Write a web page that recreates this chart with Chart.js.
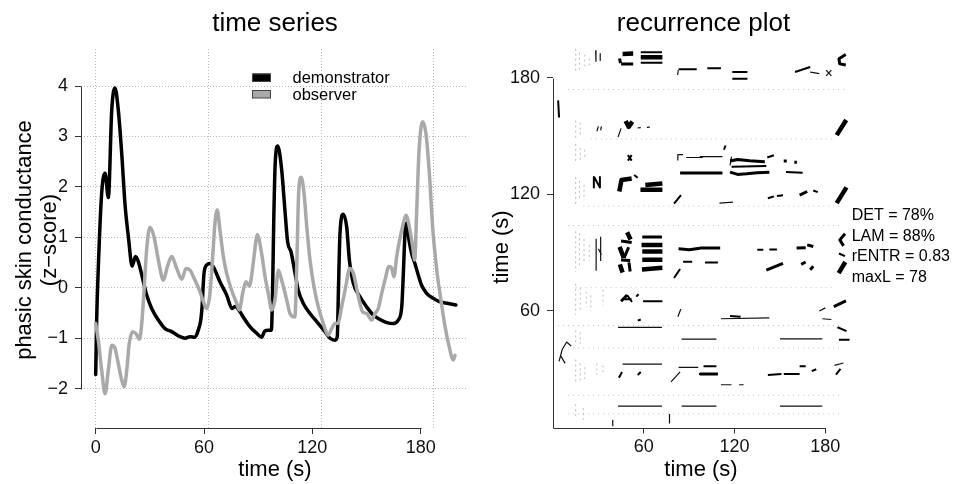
<!DOCTYPE html>
<html><head><meta charset="utf-8">
<script src="https://cdn.jsdelivr.net/npm/chart.js@4.4.1/dist/chart.umd.min.js"></script>
<style>
html,body{margin:0;padding:0;background:#fff;}
#wrap{position:relative;width:955px;height:484px;overflow:hidden;background:#fff;}
canvas{position:absolute;top:0;}
#c1{left:0;width:480px;height:484px;}
#c2{left:480px;width:475px;height:484px;}
</style></head><body>
<div id="wrap"><canvas id="c1" width="480" height="484"></canvas><canvas id="c2" width="475" height="484"></canvas></div>
<script>
// ---------- time series data (seconds, z-score) ----------
const demoTime = [0,0.5,1.5,3.3,5.2,7.0,8.9,10.7,12.5,14.4,16.2,18.1,20.2,22.0,23.6,26.4,28.2,31,34.7,38.4,42.1,46.7,49.5,52.3,55,56.8,58.2,58.9,60,61.5,63.3,65.1,68.8,72.5,75.5,77.3,80,81.7,85.4,89.1,91.9,93.6,95.6,97.3,97.9,98.6,99.4,100.8,103,104.8,106.3,108.2,110.4,112.2,115,118.7,122.4,127,129.8,132.5,133.8,134.4,135.3,137.1,139,140.5,142.7,146.4,150.1,153.7,157.5,161.2,164.8,167.6,169.5,170.4,171.3,172.2,173.5,175,176.8,178.7,180.5,183.3,187,190.7,195.3,199.5];
const demoValue = [-1.72,-0.7,0.45,1.87,2.27,1.79,3.53,3.96,3.53,2.67,1.67,1.01,0.43,0.62,0.52,0.12,-0.14,-0.41,-0.64,-0.81,-0.87,-0.97,-1.0,-0.97,-0.98,-0.84,-0.64,-0.38,0.29,0.45,0.48,0.42,0.12,-0.14,-0.41,-0.37,-0.48,-0.58,-0.77,-0.9,-0.98,-0.86,-0.84,-0.84,-0.2,1.3,2.45,2.81,2.34,1.54,0.91,0.71,0.29,-0.05,-0.31,-0.51,-0.67,-0.87,-1.0,-1.04,-0.97,-0.11,1.08,1.46,1.21,0.55,0.09,-0.18,-0.38,-0.54,-0.63,-0.69,-0.71,-0.64,-0.38,0.29,1.08,1.28,0.95,0.68,0.48,0.25,0.05,-0.11,-0.21,-0.28,-0.31,-0.34];
const obsTime = [0,1.45,3.3,5.2,7,8.9,10.7,12.5,14.4,15.8,17.2,18.6,20.5,22.3,24.2,25.5,26.9,28.2,30.1,32.3,34.7,37.5,39.7,42.1,44.9,47.7,50,52.2,55,57.8,60,61.5,63.3,64.8,66.1,67.3,68.8,70.7,72.5,75.3,78.1,79.5,81.4,83.2,85.1,86.2,87.7,89.5,91.9,93.8,95.6,97.5,99.3,101.2,103,105.8,107.6,110.3,111.4,112.4,113.8,115.4,116.9,118.7,120.9,123.3,126.1,128.8,130.7,132.5,134.3,136.2,138.1,140.8,142.7,145.5,147.9,150.1,152.8,154.7,156.5,158.4,160.2,162.4,163.8,165.2,166.7,168.5,170.4,171.8,173.7,175.6,176.7,177.8,179.1,181.1,182.9,184.8,186.6,188.9,191.2,193.5,195.8,198,199];
const obsValue = [-0.71,-1.04,-1.63,-2.1,-1.63,-1.14,-1.2,-1.5,-1.83,-1.96,-1.63,-1.1,-0.87,-0.91,-1.02,-0.71,0.02,0.75,1.2,1.01,0.55,0.15,0.42,0.62,0.38,0.17,0.38,0.35,0.15,-0.08,-0.31,-0.41,-0.11,0.62,1.3,1.54,1.15,0.62,0.29,-0.05,-0.31,-0.44,-0.11,0.12,0.03,0.2,0.62,1.05,0.68,0.22,-0.11,-0.44,-0.24,0.35,0.15,-0.24,-0.51,-0.58,0.5,1.87,2.19,1.87,1.21,0.55,0.02,-0.38,-0.71,-0.94,-0.81,-0.71,-0.7,-0.38,-0.05,0.38,0.29,-0.18,-0.48,-0.51,-0.64,-0.51,-0.41,-0.11,0.15,0.42,0.4,0.22,0.62,0.98,1.28,1.44,1.21,0.81,0.55,1.54,2.73,3.29,3.06,2.27,1.21,0.35,-0.24,-0.77,-1.17,-1.43,-1.34];
const seriesNames = ["demonstrator", "observer"];
const tsXTicks = [0, 60, 120, 180];
const tsGridX = [0, 62.4, 124.8, 187.2];
const tsYTicks = [-2, -1, 0, 1, 2, 3, 4];

// ---------- recurrence plot marks (time of demonstrator, time of observer), polylines ----------
const rpTicks = [60, 120, 180];
const rqaLines = ["DET = 78%", "LAM = 88%", "rENTR = 0.83", "maxL = 78"];
const rpDense = [
 [46,192.3, 53,192.5],
 [58,190.6, 72.3,190.6],
 [48,157.8, 50,154.8, 52.5,157.5],
 [187.5,150.5, 193.8,158.3],
 [43.8,121.5, 45.3,127.4, 52,128.2],
 [57.8,122.4, 72.3,122.4],
 [61,124.8, 72.3,125.6],
 [187.5,115.5, 194,123.6],
 [49,100.5, 51.3,96.8],
 [44,93, 46.8,87.3],
 [44.2,84, 46,79.8],
 [58.5,94.0, 72.3,94.0],
 [59,90.6, 72.3,90.6],
 [59,86.3, 72.3,86.3],
 [58.8,81.4, 72.3,82.2],
 [188.8,79.5, 193.2,85.2]
];
const rpStrong = [
 [44,190, 44.6,187.6],
 [45,187.2, 53,187.2],
 [193.5,192, 189,189.8, 189.5,187.2, 193.5,186.6],
 [84,131, 99,131],
 [97,131, 112,131],
 [117,137.2, 122,138, 130,137.3, 140,136.8],
 [117,131.5, 122,130.3, 128,130.6, 135,131.2, 143,131.4],
 [152.5,137.2, 154.5,137.2], [159.5,136.6, 161.2,136.6],
 [163,119.6, 168,121.5],
 [45,96, 52,95.2],
 [47,87.3, 50,92.8],
 [45,86.2, 51,86],
 [50.2,85, 51,80.3],
 [83,92, 90,91.5, 97,92.3],
 [97,92.4, 110.5,92.4],
 [161,92.4, 167,92.6], [168,94, 172,93.2],
 [141,81, 152,84.5],
 [164,84, 167,85.2], [170,81.2, 172,83],
 [193,99.7, 189.6,96.6, 192,93.5],
 [185.6,62.2, 193.6,65.2],
 [45,65, 49,68.2],
 [97,27.6, 109,27.6],
 [59,98.1, 72,98.1]
];
const rpMedium = [
 [58,193.2, 72,193.2], [58,187.8, 72.3,187.8],
 [83,184.5, 95,184.5],
 [102,185, 111,185],
 [118.5,183, 128.5,183],
 [118.5,179.6, 128.5,179.6],
 [160,183, 170,185.6],
 [3.4,168.4, 4,159.6],
 [49.5,140.2, 52,137.4], [49.5,137.4, 52,140.2],
 [118,134.2, 141,134.6],
 [154,131.6, 165,131.1],
 [142,118, 146,119], [148,119.2, 152,119.6],
 [172,122, 175,121.2],
 [80,115.2, 84.6,119.6],
 [86,85.3, 92,85.3],
 [100.5,85, 109,85],
 [135,91.5, 139,91.5], [143,91.6, 148,91.6],
 [80,77, 84,81.6],
 [189,89.6, 193,88.2],
 [49,68.2, 52.2,64.6], [47,66, 52,66],
 [59.5,65, 72.3,65],
 [55,67.4, 56.6,68.6],
 [56,55, 58,55.6],
 [117,57.4, 124,57],
 [188,51.6, 194,49.6],
 [189,45.2, 196,45.2],
 [27,129, 27,123.5], [27.2,129, 31,123.5], [31,129, 31,123.5],
 [56,27, 58,28.6],
 [43.6,25.6, 45.6,28.6],
 [96.5,27.5, 101,27.5],
 [99.5,31.5, 108,31.5],
 [142,27, 151,27.6],
 [152.5,27.5, 163,27.5],
 [163,31.5, 167,31.5], [171,29, 174,30],
 [187,27.2, 190,30.2],
 [141.6,139, 146,140.2],
 [113,143, 114,145.2],
 [53.6,130, 56,128.6]
];
const rpLight = [
 [82.8,184, 82.4,181.5],
 [28.2,194, 28.4,188.5], [31.2,192.5, 31.2,189],
 [82.5,137.4, 82.5,140.5, 86,140.5],
 [88,139, 99,139],
 [97,139.5, 112,139.5],
 [117,135, 118,139.5],
 [43,149.5, 45,154],
 [56,154.3, 58,154.4], [62,154.5, 64,154.6],
 [29,152.5, 30,155], [31.5,153, 32,155],
 [170,183, 176,182.2],
 [180.5,181, 184,184], [180.5,184, 184,181],
 [46,32.6, 72,32.6],
 [83,31, 96,31],
 [78,23.5, 84,28.6],
 [111,56, 143,56.4],
 [176,60, 180,61.6], [178,56, 184,55.6],
 [186,32, 192,33.2],
 [43,51.5, 72,51.5],
 [85,45.5, 99,45.5],
 [150,45.6, 178,45.6],
 [4,34, 6,40, 9,44, 12,42], [5,37, 8,33],
 [82.5,57, 84.5,61],
 [111,22, 118,22], [123,22, 126,22],
 [43,11, 72,11],
 [85,11, 108,11],
 [150,11, 178,11],
 [39.5,0.6, 39.5,4], [77,2, 77,7],
 [110,115.5, 119,116],
 [28.5,97, 28.5,81], [31.5,98, 31.5,86], [30,92, 32,89],
 [97.5,45.5, 108,45.5]
];
const rpSparse = [
 [15,195,15,182],[17.5,193,17.5,184],[21,192,21,186],[24,190,24,185],
 [15,158,15,148],[18,157,18,150],
 [15,146,15,136],[18,144,18,137],[21,143,21,138],
 [15,129,15,115],[17.5,127,17.5,118],[20.5,125,20.5,117],
 [15,101,15,80],[17.5,100,17.5,82],[20.5,97,20.5,84],[24,94,24,86],
 [15,74,15,58],[18,72,18,60],[22,70,22,62],[25,68,25,60],[33,71,33,63],
 [15,50,15,42],[18,49,18,43],
 [15,35,15,22],[18,33,18,24],[21,31,21,25],[29,33,29,27],[33,32,33,27],
 [15,12,15,5],[20,10,20,4]
];
const rpSpeckle = [
 [10,174, 195,174],
 [25,148.5, 185,148.5],
 [20,114, 190,114],
 [10,104, 190,104],
 [15,72, 185,72],
 [0,52.5, 190,52.5],
 [10,41, 190,41],
 [10,16.5, 190,16.5],
 [10,7, 190,7]
];

// ---------- helpers ----------
const FONT = "'Liberation Sans', Arial, Helvetica, sans-serif";
Chart.defaults.font.family = FONT;
Chart.defaults.animation = false;
Chart.defaults.plugins.legend.display = false;
Chart.defaults.plugins.tooltip.enabled = false;
Chart.defaults.events = [];

const pairs = (t, v) => t.map((x, i) => ({x: x, y: v[i]}));
function segs(polys) {
  const out = [];
  for (const p of polys) {
    for (let i = 0; i < p.length; i += 2) out.push({x: p[i], y: p[i + 1]});
    out.push({x: p[p.length - 2], y: null});
  }
  return out;
}
const minus = v => String(v).replace('-', '\u2212');
const setTicks = arr => scale => { scale.ticks = arr.map(v => ({value: v})); };

function rAxes(chart, xs, ys, xt, yt) {
  const ctx = chart.ctx, ca = chart.chartArea;
  ctx.save();
  ctx.strokeStyle = '#333'; ctx.lineWidth = 1;
  ctx.beginPath();
  const ax = Math.round(ca.left) + 0.5;
  ctx.moveTo(ax, Math.round(ys.getPixelForValue(yt[yt.length - 1])) + 0.5);
  ctx.lineTo(ax, Math.round(ys.getPixelForValue(yt[0])) + 0.5);
  const by = Math.round(ca.bottom) + 0.5;
  ctx.moveTo(Math.round(xs.getPixelForValue(xt[0])) + 0.5, by);
  ctx.lineTo(Math.round(xs.getPixelForValue(xt[xt.length - 1])) + 0.5, by);
  ctx.stroke();
  ctx.restore();
}
function txt(ctx, s, x, y, size, align, rot) {
  ctx.save();
  ctx.font = size + 'px ' + FONT;
  ctx.fillStyle = '#000';
  ctx.textAlign = align || 'left';
  ctx.textBaseline = 'alphabetic';
  ctx.translate(x, y);
  if (rot) ctx.rotate(rot);
  ctx.fillText(s, 0, 0);
  ctx.restore();
}

// ---------- left chart: time series ----------
const leftDeco = {
  id: 'leftDeco',
  afterDraw(chart) {
    const ctx = chart.ctx;
    rAxes(chart, chart.scales.x, chart.scales.y, tsXTicks, tsYTicks);
    txt(ctx, 'time series', 275, 31, 26, 'center');
    txt(ctx, 'time (s)', 275, 476, 22, 'center');
    txt(ctx, 'phasic skin conductance', 31, 240, 22, 'center', -Math.PI / 2);
    txt(ctx, '(z\u2212score)', 56, 240, 22, 'center', -Math.PI / 2);
    // legend
    const cols = ['#000000', '#a9a9a9'];
    ctx.save();
    for (let i = 0; i < seriesNames.length; i++) {
      const y = 73.5 + i * 16.5;
      ctx.fillStyle = cols[i];
      ctx.fillRect(252.5, y, 18, 8);
      ctx.strokeStyle = '#444'; ctx.lineWidth = 1;
      ctx.strokeRect(252.5, y + 0.5, 18, 7.5);
      txt(ctx, seriesNames[i], 292.5, y + 9.5, 16.5, 'left');
    }
    ctx.restore();
  }
};

const tsMin = -8.14, tsMax = 206.2;
new Chart(document.getElementById('c1'), {
  type: 'line',
  data: {
    datasets: [
      {label: seriesNames[1], data: pairs(obsTime, obsValue), borderColor: '#a9a9a9', borderWidth: 3.5, pointRadius: 0, cubicInterpolationMode: 'monotone', fill: false, borderJoinStyle: 'round', borderCapStyle: 'round'},
      {label: seriesNames[0], data: pairs(demoTime, demoValue), borderColor: '#000000', borderWidth: 3.5, pointRadius: 0, cubicInterpolationMode: 'monotone', fill: false, borderJoinStyle: 'round', borderCapStyle: 'round'}
    ]
  },
  options: {
    responsive: false,
    parsing: true,
    layout: {padding: {left: 0, right: 12, top: 49, bottom: 0}},
    scales: {
      x: {type: 'linear', position: 'bottom', min: tsMin, max: tsMax,
        afterBuildTicks: setTicks(tsXTicks), afterFit: s => { s.height = 56; },
        grid: {drawOnChartArea: false, drawTicks: true, tickLength: 6, tickColor: '#333', tickWidth: 1},
        border: {display: false},
        ticks: {font: {size: 18}, color: '#111', padding: 3, maxRotation: 0, autoSkip: false}},
      xg: {type: 'linear', position: 'top', min: tsMin, max: tsMax,
        afterBuildTicks: setTicks(tsGridX), afterFit: s => { s.height = 0; },
        grid: {drawOnChartArea: true, drawTicks: false, color: '#b8b8b8', lineWidth: 1},
        border: {display: false, dash: [1, 2]},
        ticks: {display: false}},
      y: {type: 'linear', min: -2.78, max: 4.734,
        afterBuildTicks: setTicks(tsYTicks), afterFit: s => { s.width = 81; },
        grid: {drawOnChartArea: true, drawTicks: true, tickLength: 6, tickColor: '#333', color: '#b8b8b8', lineWidth: 1},
        border: {display: false, dash: [1, 2]},
        ticks: {font: {size: 18}, color: '#111', padding: 7, callback: v => minus(v)}}
    }
  },
  plugins: [leftDeco]
});

// ---------- right chart: recurrence plot ----------
const rightDeco = {
  id: 'rightDeco',
  afterDraw(chart) {
    const ctx = chart.ctx;
    rAxes(chart, chart.scales.x, chart.scales.y, [0, 180], [0, 180]);
    txt(ctx, 'recurrence plot', 223.5, 31, 26, 'center');
    txt(ctx, 'time (s)', 221, 476, 22, 'center');
    txt(ctx, 'time (s)', 28, 247, 22, 'center', -Math.PI / 2);
    for (let i = 0; i < rqaLines.length; i++) txt(ctx, rqaLines[i], 371.7, 220 + i * 20.5, 16, 'left');
  }
};
const rpSet = (data, w, col, dash) => ({data: segs(data), showLine: true, borderColor: col, borderWidth: w, pointRadius: 0, borderDash: dash || [], borderCapStyle: 'butt', borderJoinStyle: 'round', spanGaps: false});
new Chart(document.getElementById('c2'), {
  type: 'scatter',
  data: {
    datasets: [
      rpSet(rpDense, 4.5, '#000'),
      rpSet(rpStrong, 3, '#000'),
      rpSet(rpMedium, 2, '#000'),
      rpSet(rpLight, 1.2, '#111'),
      rpSet(rpSparse, 1, '#bcbcbc', [2, 3]),
      rpSet(rpSpeckle, 1, '#c4c4c4', [1, 4])
    ]
  },
  options: {
    responsive: false,
    layout: {padding: {left: 0, right: 100, top: 40, bottom: 0}},
    scales: {
      x: {type: 'linear', min: 0, max: 199.6,
        afterBuildTicks: setTicks(rpTicks), afterFit: s => { s.height = 56.5; },
        grid: {drawOnChartArea: false, drawTicks: true, tickLength: 6, tickColor: '#333'},
        border: {display: false},
        ticks: {font: {size: 18}, color: '#111', padding: 3, maxRotation: 0, autoSkip: false}},
      y: {type: 'linear', min: 0, max: 199.5,
        afterBuildTicks: setTicks(rpTicks), afterFit: s => { s.width = 73; },
        grid: {drawOnChartArea: false, drawTicks: true, tickLength: 6, tickColor: '#333'},
        border: {display: false},
        ticks: {font: {size: 18}, color: '#111', padding: 7}}
    }
  },
  plugins: [rightDeco]
});
</script>
</body></html>
